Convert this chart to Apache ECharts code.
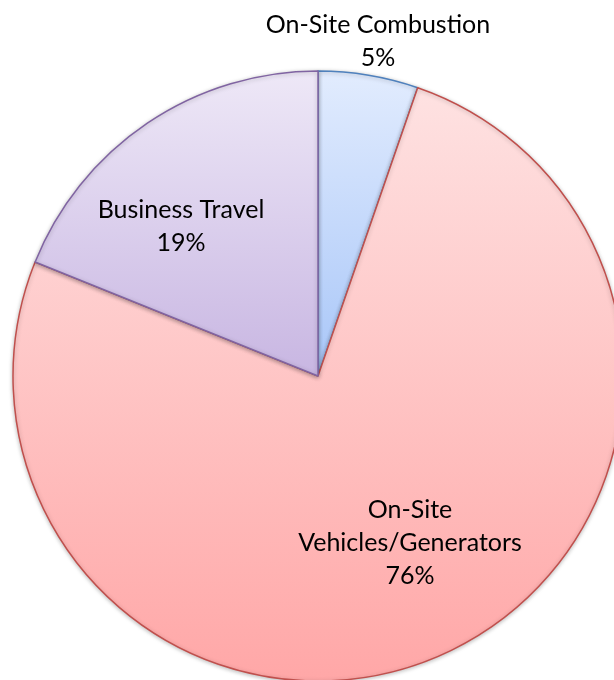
<!DOCTYPE html>
<html>
<head>
<meta charset="utf-8">
<script src="https://cdn.jsdelivr.net/npm/echarts@6/dist/echarts.min.js"></script>
<style>
  html, body { margin: 0; padding: 0; background: #fff; }
  #chart { width: 614px; height: 680px; }
</style>
</head>
<body>
<div id="chart"></div>
<script>
  // data
  var categories = ['On-Site Combustion', 'On-Site\nVehicles/Generators', 'Business Travel'];
  var values = [5.3, 75.8, 18.9];

  // slice looks (Excel 2007 style gradients)
  var borderColors = ['#4f81bd', '#c0504d', '#8064a2'];
  var topColors = ['#e2ecfe', '#fee2e2', '#eee8f7'];
  var bottomColors = ['#a8c6f8', '#ffa7a7', '#c8b6e2'];
  // where each label sits (centre of text block)
  var labelPos = [[378, 41], [410, 543], [181, 226]];

  var chart = echarts.init(document.getElementById('chart'));

  var pieData = categories.map(function (name, i) {
    return {
      name: name,
      value: values[i],
      itemStyle: {
        borderColor: borderColors[i],
        color: new echarts.graphic.LinearGradient(0, 0, 0, 1, [
          { offset: 0, color: topColors[i] },
          { offset: 1, color: bottomColors[i] }
        ])
      }
    };
  });

  chart.setOption({
    animation: false,
    series: [
      {
        type: 'pie',
        center: [318, 376],
        radius: 305,
        startAngle: 90,
        clockwise: true,
        avoidLabelOverlap: false,
        itemStyle: {
          borderWidth: 1.5,
          shadowBlur: 4,
          shadowColor: 'rgba(0,0,0,0.25)',
          shadowOffsetY: 1
        },
        label: {
          show: true,
          position: 'inside',
          color: '#000',
          fontFamily: 'Lato',
          fontSize: 25,
          lineHeight: 33,
          align: 'center',
          formatter: function (p) {
            return p.name + '\n' + Math.round(p.percent) + '%';
          }
        },
        labelLine: { show: false },
        labelLayout: function (params) {
          var pos = labelPos[params.dataIndex];
          return { x: pos[0], y: pos[1], align: 'center', verticalAlign: 'middle' };
        },
        emphasis: { disabled: true },
        data: pieData
      }
    ]
  });
</script>
</body>
</html>
